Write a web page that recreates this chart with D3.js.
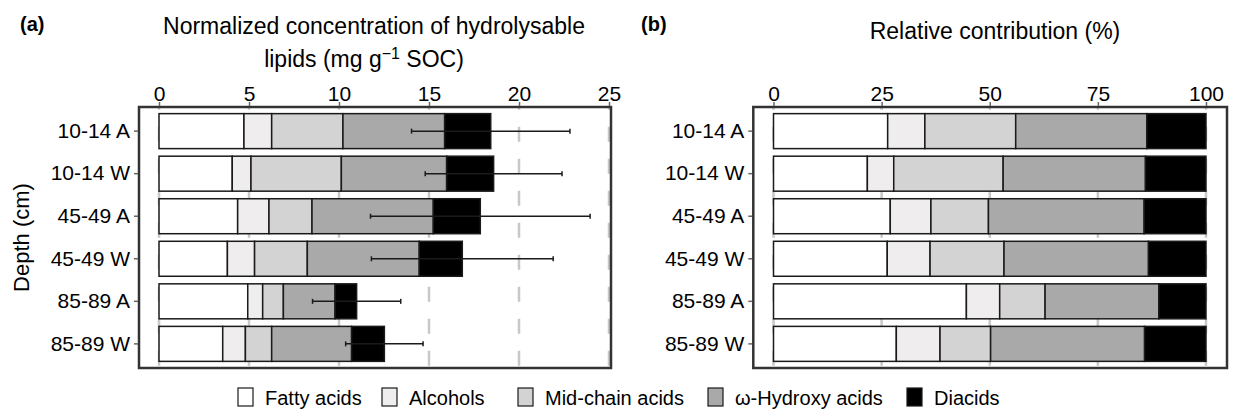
<!DOCTYPE html>
<html>
<head>
<meta charset="utf-8">
<script src="https://cdn.jsdelivr.net/npm/d3@7"></script>
<style>
  body { margin: 0; background: #fff; }
  svg { display: block; }
</style>
</head>
<body>
<div id="chart"></div>
<script>
// categories
const depths = ['10-14 A', '10-14 W', '45-49 A', '45-49 W', '85-89 A', '85-89 W'];
const classes = ['Fatty acids', 'Alcohols', 'Mid-chain acids', 'ω-Hydroxy acids', 'Diacids'];

// (a) concentration, mg g-1 SOC
const fattyConc = [4.72, 4.07, 4.37, 3.80, 4.93, 3.54];
const alcoholConc = [1.54, 1.04, 1.74, 1.51, 0.83, 1.26];
const midChainConc = [3.96, 5.02, 2.39, 2.93, 1.15, 1.46];
const hydroxyConc = [5.65, 5.85, 6.74, 6.22, 2.87, 4.44];
const diacidConc = [2.56, 2.61, 2.61, 2.39, 1.20, 1.82];
const concError = [4.4, 3.8, 6.1, 5.05, 2.45, 2.15];

// (b) relative contribution, %
const fattyPct = [26.4, 21.7, 27.0, 26.3, 44.6, 28.4];
const alcoholPct = [8.6, 6.1, 9.4, 9.9, 7.7, 10.1];
const midChainPct = [21.0, 25.3, 13.3, 17.1, 10.5, 11.7];
const hydroxyPct = [30.3, 32.9, 36.0, 33.4, 26.3, 35.6];
const diacidPct = [13.7, 14.0, 14.3, 13.3, 10.9, 14.2];

// tick labels
const concTicks = [0, 5, 10, 15, 20, 25];
const pctTicks = [0, 25, 50, 75, 100];

const fills = ['#ffffff', '#efeded', '#d3d3d3', '#a9a9a9', '#000000'];
const font = "'Liberation Sans', Arial, Helvetica, sans-serif";

const toRows = (cols, err) => depths.map((d, i) => {
  const row = { depth: d };
  classes.forEach((c, j) => row[c] = cols[j][i]);
  if (err) row.err = err[i];
  return row;
});

const concRows = toRows([fattyConc, alcoholConc, midChainConc, hydroxyConc, diacidConc], concError);
const pctRows = toRows([fattyPct, alcoholPct, midChainPct, hydroxyPct, diacidPct]);

const svg = d3.select('#chart')
  .append('svg')
  .attr('width', 1240)
  .attr('height', 419)
  .style('font-family', font);

const yTop = 107, yBottom = 368;

const y = d3.scaleBand()
  .domain(depths)
  .range([yTop, yBottom])
  .paddingInner(0.178)
  .paddingOuter(0.156);

const stack = d3.stack().keys(classes);

// one panel: grid, stacked bars, error bars, box, axes
const panel = ({ rows, x, ticks, boxLeft, boxRight, withErr }) => {
  const g = svg.append('g');

  g.append('g')
    .selectAll('line')
    .data(ticks)
    .join('line')
    .attr('x1', d => x(d))
    .attr('x2', d => x(d))
    .attr('y1', yTop)
    .attr('y2', yBottom)
    .attr('stroke', '#c8c8c8')
    .attr('stroke-width', 2.5)
    .attr('stroke-dasharray', '15,17')
    .attr('stroke-dashoffset', 12.3);

  g.append('g')
    .selectAll('g')
    .data(stack(rows))
    .join('g')
    .attr('fill', (d, i) => fills[i])
    .selectAll('rect')
    .data(d => d)
    .join('rect')
    .attr('x', d => x(d[0]))
    .attr('width', d => x(d[1]) - x(d[0]))
    .attr('y', d => y(d.data.depth))
    .attr('height', y.bandwidth())
    .attr('stroke', '#1a1a1a')
    .attr('stroke-width', 1.5);

  if (withErr) {
    const eb = g.append('g')
      .attr('stroke', '#1a1a1a')
      .attr('stroke-width', 1.5)
      .selectAll('g')
      .data(rows)
      .join('g')
      .attr('transform', d => `translate(0, ${y(d.depth) + y.bandwidth() / 2})`);
    const total = d => d3.sum(classes, c => d[c]);
    eb.append('line')
      .attr('x1', d => x(total(d) - d.err))
      .attr('x2', d => x(total(d) + d.err));
    eb.append('line')
      .attr('x1', d => x(total(d) - d.err))
      .attr('x2', d => x(total(d) - d.err))
      .attr('y1', -2.5).attr('y2', 2.5);
    eb.append('line')
      .attr('x1', d => x(total(d) + d.err))
      .attr('x2', d => x(total(d) + d.err))
      .attr('y1', -2.5).attr('y2', 2.5);
  }

  g.append('rect')
    .attr('x', boxLeft)
    .attr('y', yTop)
    .attr('width', boxRight - boxLeft)
    .attr('height', yBottom - yTop)
    .attr('fill', 'none')
    .attr('stroke', '#333')
    .attr('stroke-width', 2.5);

  const xAxis = g.append('g')
    .attr('transform', `translate(0, ${yTop - 1})`)
    .call(d3.axisTop(x).tickValues(ticks).tickSize(4).tickPadding(1));

  const yAxis = g.append('g')
    .attr('transform', `translate(${boxLeft - 1}, 0)`)
    .call(d3.axisLeft(y).tickSize(4).tickPadding(4));

  [xAxis, yAxis].forEach(a => {
    a.select('.domain').remove();
    a.selectAll('line').attr('stroke', '#666').attr('stroke-width', 1.5);
    a.selectAll('text')
      .attr('fill', '#000')
      .style('font-family', font)
      .style('font-size', '21px');
  });
};

panel({
  rows: concRows,
  x: d3.scaleLinear().domain([0, 25]).range([159, 609]),
  ticks: concTicks,
  boxLeft: 139,
  boxRight: 611,
  withErr: true
});

panel({
  rows: pctRows,
  x: d3.scaleLinear().domain([0, 100]).range([773.5, 1206]),
  ticks: pctTicks,
  boxLeft: 753.3,
  boxRight: 1227
});

// titles
const label = (txt, x, yy, opts = {}) => svg.append('text')
  .attr('x', x)
  .attr('y', yy)
  .attr('text-anchor', opts.anchor || 'middle')
  .attr('font-size', opts.size || 23)
  .attr('font-weight', opts.bold ? 'bold' : 'normal')
  .text(txt);

label('(a)', 20, 31, { anchor: 'start', bold: true, size: 20 });
label('(b)', 641, 31, { anchor: 'start', bold: true, size: 20 });
label('Normalized concentration of hydrolysable', 374, 34);
const l2 = label('lipids (mg g', 364, 67);
l2.append('tspan').attr('dy', -8).attr('font-size', 16).text('−1');
l2.append('tspan').attr('dy', 8).text(' SOC)');
label('Relative contribution (%)', 995, 39);

svg.append('text')
  .attr('transform', 'translate(29, 237.5) rotate(-90)')
  .attr('text-anchor', 'middle')
  .attr('font-size', 22)
  .text('Depth (cm)');

// legend
const legendX = [238, 382, 518, 708, 907];
const legend = svg.append('g')
  .selectAll('g')
  .data(classes)
  .join('g')
  .attr('transform', (d, i) => `translate(${legendX[i]}, 388)`);

legend.append('rect')
  .attr('width', 15)
  .attr('height', 18)
  .attr('fill', (d, i) => fills[i])
  .attr('stroke', '#1a1a1a')
  .attr('stroke-width', 1.2);

legend.append('text')
  .attr('x', 27)
  .attr('y', 17)
  .attr('font-size', 20)
  .text(d => d);
</script>
</body>
</html>
